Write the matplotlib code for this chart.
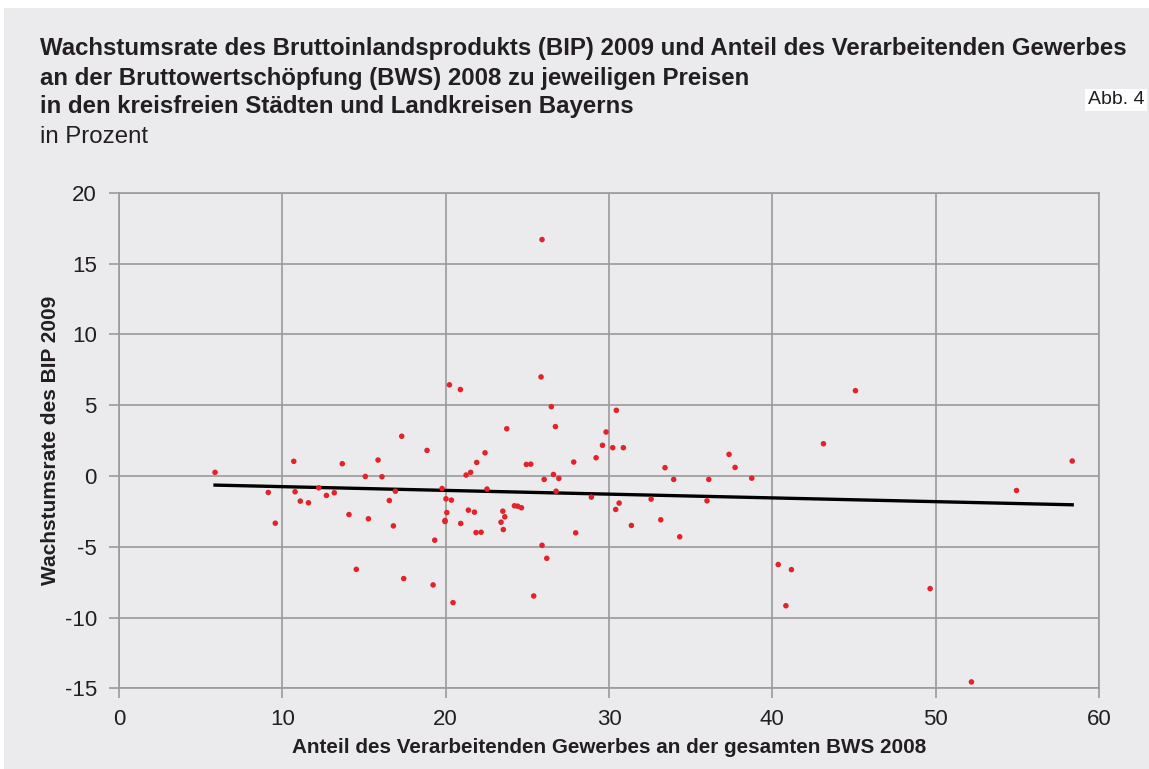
import matplotlib
matplotlib.use("Agg")
import matplotlib.pyplot as plt
import numpy as np

plt.rcParams['font.family'] = ['Liberation Sans', 'DejaVu Sans']

# Anteil des Verarbeitenden Gewerbes an der BWS 2008 (%)
share_x = [5.88, 9.14, 9.57, 10.70, 10.78, 11.10, 11.60, 12.23, 12.70, 13.18,
           13.67, 14.08, 14.53, 15.08, 15.27, 15.86, 16.10, 16.55, 16.80, 16.92,
           17.31, 17.43, 18.86, 19.23, 19.33, 19.78, 20.02, 20.07, 19.96, 19.96,
           20.35, 20.45, 20.92, 21.25, 21.53, 21.39, 21.76, 21.90, 21.86, 22.17,
           22.41, 22.53, 23.50, 23.62, 23.39, 23.53, 23.74, 24.21, 24.41, 24.64,
           24.94, 25.21, 25.39, 25.90, 26.19, 26.03, 26.60, 26.93, 26.76, 26.72,
           27.84, 27.96, 28.92, 29.21, 29.60, 29.82, 30.23, 30.88, 30.41, 30.62,
           31.37, 32.58, 33.17, 33.43, 33.96, 34.33, 36.00, 36.11, 37.35, 37.72,
           38.74, 25.90, 25.84, 20.23, 20.90, 26.47, 30.45, 45.09, 43.13, 54.95,
           58.36, 40.36, 41.17, 40.83, 49.66, 52.19]
# Wachstumsrate des BIP 2009 (%)
growth_y = [0.25, -1.17, -3.34, 1.03, -1.12, -1.78, -1.90, -0.84, -1.38, -1.19,
            0.86, -2.73, -6.60, -0.04, -3.03, 1.12, -0.06, -1.74, -3.53, -1.08,
            2.80, -7.25, 1.80, -7.70, -4.54, -0.89, -1.62, -2.59, -3.15, -3.22,
            -1.71, -8.95, -3.36, 0.06, 0.25, -2.42, -2.56, 0.95, -4.00, -3.98,
            1.63, -0.93, -2.49, -2.89, -3.27, -3.79, 3.33, -2.11, -2.14, -2.25,
            0.81, 0.83, -8.48, -4.90, -5.82, -0.25, 0.10, -0.18, -1.08, 3.48,
            0.98, -4.02, -1.50, 1.28, 2.16, 3.10, 1.99, 1.99, -2.37, -1.92,
            -3.50, -1.64, -3.10, 0.58, -0.25, -4.30, -1.76, -0.25, 1.52, 0.60,
            -0.16, 16.69, 6.99, 6.43, 6.10, 4.89, 4.63, 6.02, 2.27, -1.03,
            1.05, -6.26, -6.62, -9.17, -7.96, -14.55]

# Linear trend line endpoints
trend_x = [5.88, 58.36]
trend_y = [-0.65, -2.04]

x_ticks = [0, 10, 20, 30, 40, 50, 60]
y_ticks = [-15, -10, -5, 0, 5, 10, 15, 20]

bg = '#EBEBEE'
grid_c = '#9A9A9A'
txt = '#231F20'

fig = plt.figure(figsize=(11.49, 7.69), dpi=100)
fig.patch.set_facecolor(bg)
# white margins at top and left
fig.patches.append(matplotlib.patches.Rectangle((0, 1 - 8/769), 1, 8/769,
                   transform=fig.transFigure, facecolor='white', edgecolor='none', zorder=-1))
fig.patches.append(matplotlib.patches.Rectangle((0, 0), 4/1149, 1,
                   transform=fig.transFigure, facecolor='white', edgecolor='none', zorder=-1))

ax = fig.add_axes([119/1149, 1 - 688.3/769, 980/1149, (688.3 - 192.7)/769])
ax.set_facecolor(bg)
ax.set_xlim(0, 60)
ax.set_ylim(-15, 20)
ax.set_xticks(x_ticks)
ax.set_yticks(y_ticks)
ax.set_xticklabels([str(v) for v in x_ticks], fontsize=16, color=txt)
ax.set_yticklabels([str(v) for v in y_ticks], fontsize=16, color=txt)
ax.grid(True, color=grid_c, linewidth=1.2)
ax.set_axisbelow(True)
for s in ax.spines.values():
    s.set_color(grid_c)
    s.set_linewidth(1.2)
ax.tick_params(axis='both', direction='out', length=7, width=1.2, color=grid_c)
ax.tick_params(axis='y', pad=9)
ax.tick_params(axis='x', pad=8)

ax.plot(trend_x, trend_y, color='black', linewidth=2.4, zorder=3)
ax.scatter(share_x, growth_y, s=16, color='#E3232B', edgecolors='none', zorder=4)

ax.set_xlabel('Anteil des Verarbeitenden Gewerbes an der gesamten BWS 2008',
              fontsize=14.9, fontweight='bold', color=txt, labelpad=6)
ax.set_ylabel('Wachstumsrate des BIP 2009', fontsize=15, fontweight='bold',
              color=txt, labelpad=3)

title_lines = ['Wachstumsrate des Bruttoinlandsprodukts (BIP) 2009 und Anteil des Verarbeitenden Gewerbes',
               'an der Bruttowertschöpfung (BWS) 2008 zu jeweiligen Preisen',
               'in den kreisfreien Städten und Landkreisen Bayerns']
ys = [48, 78, 107]
for t, yy in zip(title_lines, ys):
    fig.text(40/1149, 1 - yy/769, t, fontsize=17.25, fontweight='bold', color=txt,
             va='center', ha='left')
fig.text(40/1149, 1 - 137/769, 'in Prozent', fontsize=17.25, color=txt,
         va='center', ha='left')
fig.text(1088/1149, 1 - 100/769, 'Abb. 4', fontsize=14, color=txt, va='center',
         ha='left', bbox=dict(facecolor='white', edgecolor='none', pad=2.0))

fig.savefig('out.png', dpi=100)
